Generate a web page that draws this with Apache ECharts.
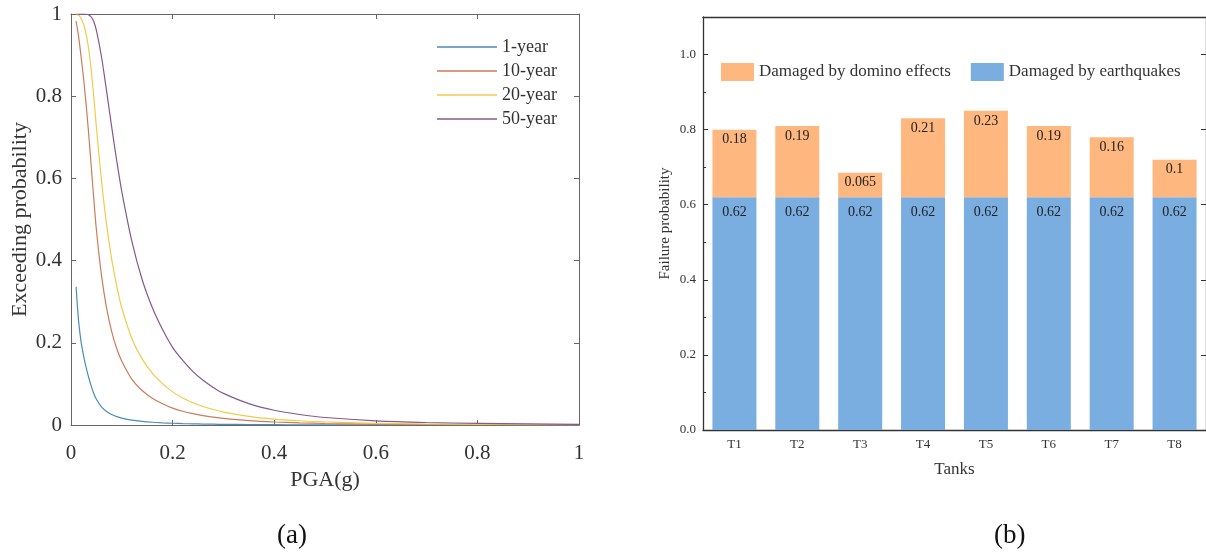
<!DOCTYPE html>
<html><head><meta charset="utf-8">
<script src="https://cdn.jsdelivr.net/npm/echarts@6/dist/echarts.min.js"></script>
<style>html,body{margin:0;padding:0;background:#fff}#c{width:1206px;height:554px}</style>
</head><body><div id="c"></div>
<script>
// ---- Panel (a): exceeding probability curves ----
const pga = [0.01,0.015,0.02,0.025,0.03,0.035,0.04,0.045,0.05,0.06,0.07,0.08,0.09,0.1,0.12,0.14,0.16,0.18,0.2,0.22,0.24,0.26,0.28,0.3,0.35,0.4,0.45,0.5,0.6,0.7,0.8,0.9,1.0];
const year1  = [0.336,0.252,0.201,0.167,0.139,0.115,0.094,0.076,0.0625,0.0442,0.033,0.0256,0.0204,0.0167,0.0117,0.0087,0.0067,0.0053,0.0042,0.0034,0.0028,0.0023,0.0019,0.0016,0.00107,0.00073,0.00052,0.00037,0.000205,0.000123,0.000079,0.000052,0.000035];
const year10 = [0.983,0.945,0.895,0.840,0.777,0.705,0.627,0.548,0.475,0.364,0.285,0.228,0.186,0.155,0.111,0.0838,0.0653,0.0517,0.0411,0.0335,0.0276,0.0228,0.0190,0.0159,0.0106,0.0073,0.0052,0.0037,0.00205,0.00123,0.00079,0.00052,0.00035];
const year20 = [0.9997,0.997,0.989,0.974,0.950,0.913,0.861,0.796,0.725,0.595,0.488,0.404,0.338,0.285,0.210,0.161,0.126,0.1007,0.0806,0.0658,0.0543,0.0451,0.0376,0.0315,0.0212,0.0145,0.0103,0.0074,0.0041,0.00246,0.00158,0.00104,0.0007];
const year50 = [1,1,1,0.9999,0.9994,0.9978,0.9927,0.9812,0.960,0.896,0.813,0.726,0.643,0.568,0.446,0.354,0.286,0.233,0.189,0.157,0.130,0.109,0.0914,0.0769,0.0521,0.0358,0.0255,0.0183,0.0102,0.00613,0.00394,0.0026,0.00175];
const curveNames = ['1-year','10-year','20-year','50-year'];

// ---- Panel (b): failure probability of tanks ----
const tanks = ['T1','T2','T3','T4','T5','T6','T7','T8'];
const byEarthquake = [0.62,0.62,0.62,0.62,0.62,0.62,0.62,0.62];
const byDomino = [0.18,0.19,0.065,0.21,0.23,0.19,0.16,0.1];
const barNames = ['Damaged by domino effects','Damaged by earthquakes'];

const serif = "'Liberation Serif','Times New Roman',serif";
const lineColors = ['#4a8db5','#c97d5a','#f1ca48','#86588f'];
const frameA = '#666';
const frameB = '#333';

function pairs(ys){ return pga.map((x,i)=>[x, ys[i]]); }
const curveData = [year1, year10, year20, year50];

const chart = echarts.init(document.getElementById('c'), null, {renderer:'canvas'});
chart.setOption({
  animation:false,
  backgroundColor:'#fff',
  textStyle:{fontFamily:serif},
  grid:[
    {left:71, top:14, width:508, height:411},
    {left:703, top:17, width:503, height:413}
  ],
  legend:[
    {
      data:curveNames, orient:'vertical', left:432, top:33, itemGap:6,
      icon:'rect', itemWidth:60, itemHeight:1.3,
      textStyle:{fontFamily:serif, fontSize:18, color:'#333'}
    },
    {
      data:barNames, orient:'horizontal', left:721, top:63, itemGap:20, padding:0,
      icon:'rect', itemWidth:33, itemHeight:18,
      textStyle:{fontFamily:serif, fontSize:17, color:'#333'}
    }
  ],
  xAxis:[
    {type:'value', gridIndex:0, min:0, max:1, interval:0.2, position:'bottom',
     name:'PGA(g)', nameLocation:'middle', nameGap:43,
     nameTextStyle:{fontFamily:serif, fontSize:22, color:'#333'},
     axisLine:{onZero:false, lineStyle:{color:frameA}}, axisTick:{inside:true, length:5, lineStyle:{color:frameA}},
     axisLabel:{fontFamily:serif, fontSize:21, color:'#333', margin:18}, splitLine:{show:false}},
    {type:'value', gridIndex:0, min:0, max:1, interval:0.2, position:'top',
     axisLine:{onZero:false, lineStyle:{color:frameA}}, axisTick:{inside:true, length:5, lineStyle:{color:frameA}},
     axisLabel:{show:false}, splitLine:{show:false}},
    {type:'category', gridIndex:1, data:tanks, position:'bottom',
     name:'Tanks', nameLocation:'middle', nameGap:31,
     nameTextStyle:{fontFamily:serif, fontSize:17, color:'#333'},
     axisLine:{onZero:false, lineStyle:{color:frameB, width:1.3}}, axisTick:{show:false},
     axisLabel:{fontFamily:serif, fontSize:13, color:'#333', margin:8}},
    {type:'category', gridIndex:1, data:tanks, position:'top',
     axisLine:{onZero:false, lineStyle:{color:frameB, width:1.3}},
     axisTick:{inside:true, alignWithLabel:true, length:6, lineStyle:{color:frameB}},
     axisLabel:{show:false}}
  ],
  yAxis:[
    {type:'value', gridIndex:0, min:0, max:1, interval:0.2, position:'left',
     name:'Exceeding probability', nameLocation:'middle', nameGap:40,
     nameTextStyle:{fontFamily:serif, fontSize:22, color:'#333'},
     axisLine:{show:true, onZero:false, lineStyle:{color:frameA}}, axisTick:{show:true, inside:true, length:5, lineStyle:{color:frameA}},
     axisLabel:{fontFamily:serif, fontSize:21, color:'#333', margin:9}, splitLine:{show:false}},
    {type:'value', gridIndex:0, min:0, max:1, interval:0.2, position:'right',
     axisLine:{show:true, onZero:false, lineStyle:{color:frameA}}, axisTick:{show:true, inside:true, length:5, lineStyle:{color:frameA}},
     axisLabel:{show:false}, splitLine:{show:false}},
    {type:'value', gridIndex:1, min:0, max:1.1, interval:0.2, position:'left',
     name:'Failure probability', nameLocation:'middle', nameGap:30,
     nameTextStyle:{fontFamily:serif, fontSize:15, color:'#333'},
     axisLine:{show:true, onZero:false, lineStyle:{color:frameB, width:1.3}},
     axisTick:{show:true, inside:true, length:5, lineStyle:{color:frameB}},
     minorTick:{show:true, splitNumber:2, length:3, lineStyle:{color:frameB}},
     axisLabel:{fontFamily:serif, fontSize:13, color:'#333', margin:7, showMaxLabel:false,
       formatter:v=>v.toFixed(1)}, splitLine:{show:false}},
    {type:'value', gridIndex:1, min:0, max:1.1, interval:0.2, position:'right',
     axisLine:{show:true, onZero:false, lineStyle:{color:frameB, width:1.3}},
     axisTick:{show:true, inside:true, length:5, lineStyle:{color:frameB}},
     axisLabel:{show:false}, splitLine:{show:false}}
  ],
  series:[
    ...curveNames.map((n,i)=>({
      name:n, type:'line', xAxisIndex:0, yAxisIndex:0, data:pairs(curveData[i]),
      symbol:'none', smooth:0.3,
      lineStyle:{color:lineColors[i], width:1.2}, itemStyle:{color:lineColors[i]}
    })),
    {name:barNames[1], type:'bar', xAxisIndex:2, yAxisIndex:2, stack:'t', barWidth:'70%',
     data:byEarthquake, itemStyle:{color:'#7AAEE0'},
     label:{show:true, position:'insideTop', distance:8, fontFamily:serif, fontSize:14, color:'#222'}},
    {name:barNames[0], type:'bar', xAxisIndex:2, yAxisIndex:2, stack:'t', barWidth:'70%',
     data:byDomino, itemStyle:{color:'#FDB77F'},
     label:{show:true, position:'insideTop', distance:3, fontFamily:serif, fontSize:14, color:'#222'}}
  ],
  graphic:[
    {type:'text', left:277, top:522, style:{text:'(a)', font:"27px 'Liberation Serif','Times New Roman',serif", fill:'#111'}},
    {type:'text', left:994, top:522, style:{text:'(b)', font:"27px 'Liberation Serif','Times New Roman',serif", fill:'#111'}}
  ]
});
</script>
</body></html>
